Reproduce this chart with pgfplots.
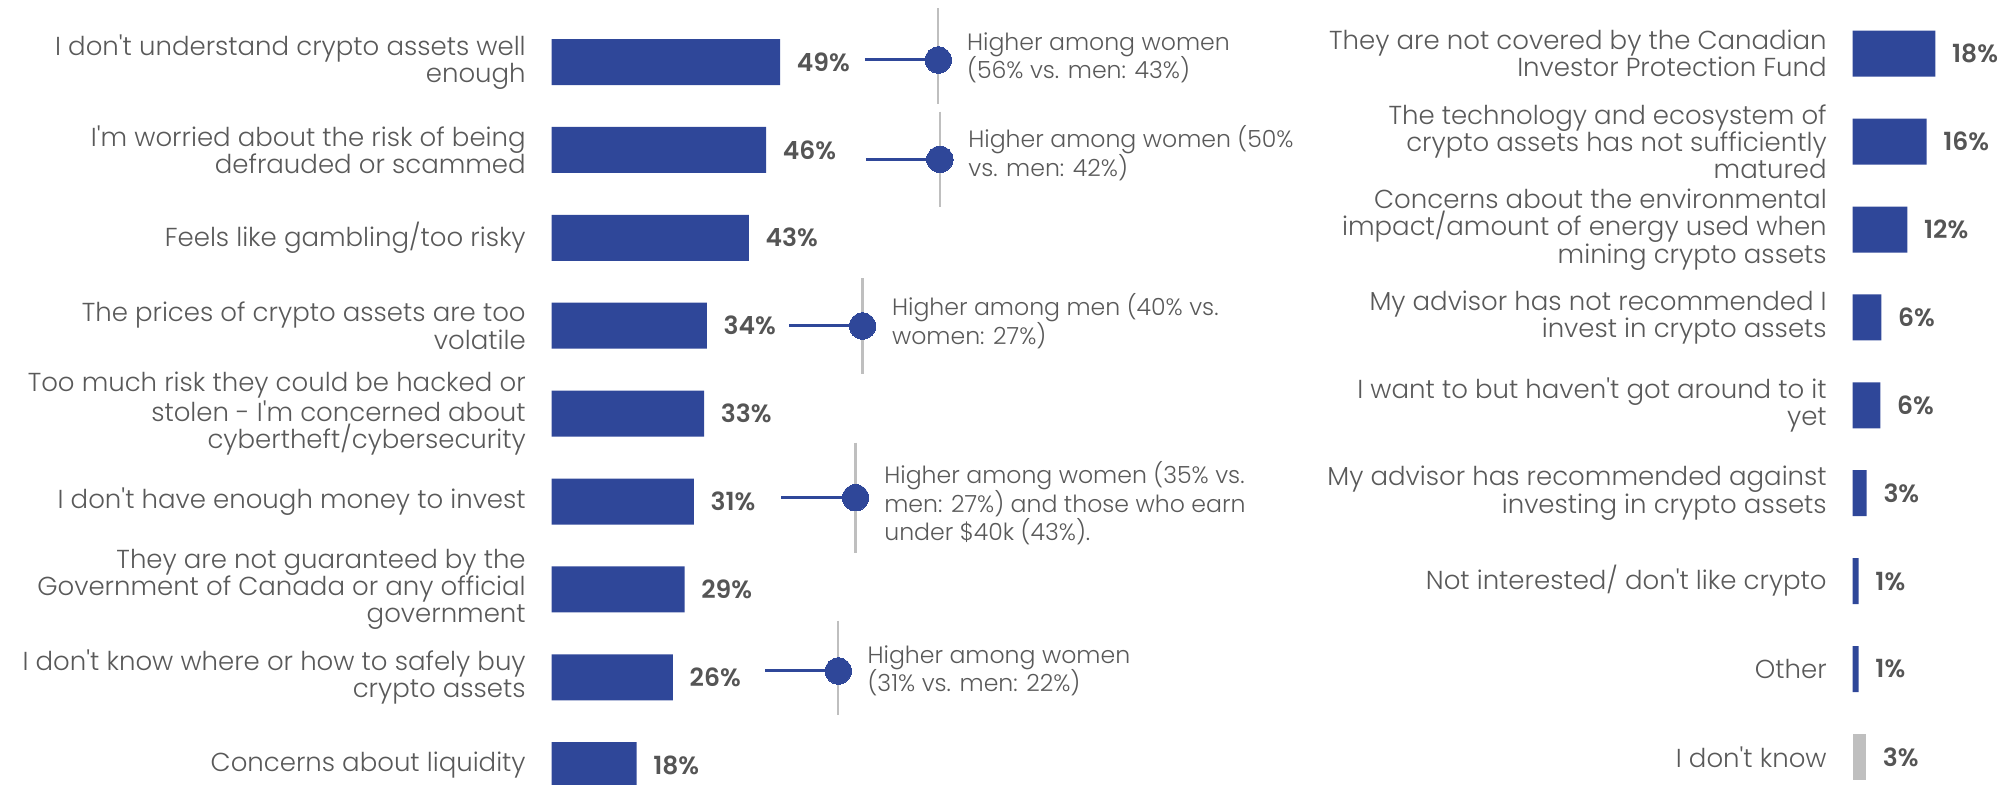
\documentclass[border=0pt]{standalone}
\usepackage{fontspec}
\setmainfont{Poppins}[UprightFont=* Light, BoldFont=* SemiBold]
\usepackage{pgfplots}
\usepackage{pgfplotstable}
\pgfplotsset{compat=1.18}
\definecolor{cblue}{HTML}{2F4799}
\definecolor{tgray}{HTML}{595959}
\definecolor{vgray}{HTML}{555555}
\definecolor{lgray}{HTML}{BFBFBF}
\newcommand{\ap}{\textquotesingle}

\pgfplotstableread{
y v lab
0 49.0 49
1 46.0 46
2 42.3 43
3 33.3 34
4 32.7 33
5 30.5 31
6 28.5 29
7 26.0 26
8 18.2 18
}\leftdata

\pgfplotstableread{
y v lab
0 18.0 18
1 16.1 16
2 11.9 12
3 6.25 6
4 6.0 6
5 3.05 3
6 1.3 1
7 1.3 1
}\rightdata

\pgfplotstableread{
y v lab
8 2.9 3
}\rightdk

% annotation markers: dot position (x in % units, y in row units)
\pgfplotstableread{
x y
82.96 -0.023
83.3 1.107
66.7 3.003
65.2 4.957
61.5 6.928
}\dots

\begin{document}
\begin{tikzpicture}
\path[use as bounding box] (0,0) rectangle (1004pt,392pt);

\pgfplotsset{
  common/.style={
    anchor=south west,
    y dir=reverse,
    enlargelimits=false,
    clip=false,
    axis line style={draw=none},
    major tick length=0pt,
    xtick=\empty,
    ytick={0,...,8},
    yticklabel style={font=\fontsize{13}{13.6}\selectfont, text=tgray, align=right, inner sep=0pt, xshift=-12.8pt},
  },
  bars/.style={
    xbar, bar shift=0pt, bar width=23pt, draw=none,
    point meta=explicit symbolic,
    nodes near coords={\pgfplotspointmeta\%},
    every node near coord/.append style={anchor=west, inner sep=0pt, xshift=8.2pt, text=vgray, font=\fontsize{12.5}{14}\selectfont\bfseries},
  },
  guide/.style={lgray, line width=1.1pt, forget plot},
  conn/.style={cblue, line width=1.5pt, forget plot},
}

% ---------------- left panel ----------------
\begin{axis}[common,
  at={(275.85pt,0pt)},
  x=2.33pt, y=43.95pt,
  xmin=0, xmax=150, ymin=-0.7053, ymax=8.2139,
  yticklabels={
    {I don\ap t understand crypto assets well\\enough},
    {I\ap m worried about the risk of being\\defrauded or scammed},
    {Feels like gambling/too risky},
    {The prices of crypto assets are too\\volatile},
    {Too much risk they could be hacked or\\stolen - I\ap m concerned about\\cybertheft/cybersecurity},
    {I don\ap t have enough money to invest},
    {They are not guaranteed by the\\Government of Canada or any official\\government},
    {I don\ap t know where or how to safely buy\\crypto assets},
    {Concerns about liquidity}
  },
]
\addplot[bars, fill=cblue] table[x=v, y=y, meta=lab] {\leftdata};

% gray vertical guide lines
\addplot[guide] coordinates {(82.96,-0.611) (82.96,0.478)};
\addplot[guide] coordinates {(83.3,0.565) (83.3,1.653)};
\addplot[guide] coordinates {(66.7,2.461) (66.7,3.549)};
\addplot[guide] coordinates {(65.2,4.331) (65.2,5.583)};
\addplot[guide] coordinates {(61.5,6.356) (61.5,7.429)};
% connectors
\addplot[conn] coordinates {(67.2,-0.023) (82.96,-0.023)};
\addplot[conn] coordinates {(67.4,1.107) (83.3,1.107)};
\addplot[conn] coordinates {(51.0,3.003) (66.7,3.003)};
\addplot[conn] coordinates {(49.3,4.957) (65.2,4.957)};
\addplot[conn] coordinates {(45.8,6.928) (61.5,6.928)};
% dots
\addplot[only marks, mark=*, mark size=6.6pt, mark options={fill=cblue, draw=cblue, line width=0pt}, forget plot] table[x=x, y=y] {\dots};

\begin{scope}[every node/.style={anchor=west, align=left, inner sep=0pt, text=tgray, font=\fontsize{11.8}{14.2}\selectfont}]
\node at (axis cs:89.06,-0.05) {Higher among women\\(56\% vs. men: 43\%)};
\node at (axis cs:89.33,1.035) {Higher among women (50\%\\vs. men: 42\%)};
\node at (axis cs:72.96,2.949) {Higher among men (40\% vs.\\women: 27\%)};
\node at (axis cs:71.3,5.02) {Higher among women (35\% vs.\\men: 27\%) and those who earn\\under \$40k (43\%).};
\node at (axis cs:67.7,6.927) {Higher among women\\(31\% vs. men: 22\%)};
\end{scope}
\end{axis}

% ---------------- right panel ----------------
\begin{axis}[common,
  at={(926.35pt,0pt)},
  x=2.295pt, y=43.95pt,
  xmin=0, xmax=30, ymin=-0.6109, ymax=8.3083,
  yticklabels={
    {They are not covered by the Canadian\\Investor Protection Fund},
    {The technology and ecosystem of\\crypto assets has not sufficiently\\matured},
    {Concerns about the environmental\\impact/amount of energy used when\\mining crypto assets},
    {My advisor has not recommended I\\invest in crypto assets},
    {I want to but haven\ap t got around to it\\yet},
    {My advisor has recommended against\\investing in crypto assets},
    {Not interested/ don\ap t like crypto},
    {Other},
    {I don\ap t know}
  },
]
\addplot[bars, fill=cblue] table[x=v, y=y, meta=lab] {\rightdata};
\addplot[bars, fill=lgray] table[x=v, y=y, meta=lab] {\rightdk};
\end{axis}
\end{tikzpicture}
\end{document}
